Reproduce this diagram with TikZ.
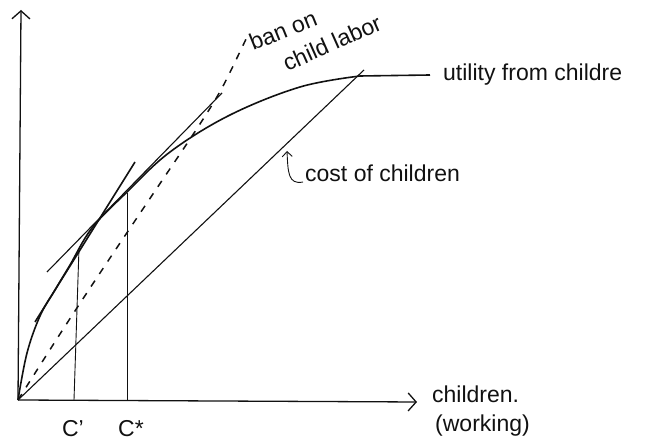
\documentclass[tikz,border=0pt]{standalone}
\usepackage{fontspec}
\setmainfont{Liberation Sans}
\usepackage{xcolor}
\definecolor{tinta}{HTML}{111111}
\usetikzlibrary{arrows.meta}

\begin{document}
\begin{tikzpicture}[x=1pt, y=1pt,
    every node/.style={font=\fontsize{23}{26}\selectfont, text=tinta, inner sep=0pt},
    eje/.style={tinta, line width=1.3pt,
      -{Straight Barb[length=8pt,width=18pt,line width=1.3pt]}},
    curva/.style={tinta, line width=1.6pt},
    fina/.style={tinta, line width=0.9pt}]

  \def\OX{18}    % origen
  \def\OY{47}
  \def\XP{74}    % C'
  \def\XS{127}   % C*

  \useasboundingbox (0,0) rectangle (657,447);

  \coordinate (O)    at (\OX,\OY);
  \coordinate (ytop) at (21,437);
  \coordinate (xtip) at (417,45);

  % ── Ejes ──────────────────────────────────────────────────
  \draw[eje] (O) -- (ytop);
  \draw[eje] (O) -- (xtip);
  \node[anchor=base west] (ejeX)  at (432,44) {children.};
  \node[anchor=base west] (ejeX2) at (435,15) {(working)};

  % ── Utilidad ──────────────────────────────────────────────
  \draw[curva] plot[smooth, tension=0.6] coordinates {
      (O) (27,94) (40,131) (55,157) (70,182) (92,219) (127,255)
      (170,295) (230,332) (300,360) (360,371)} -- (430,372);
  \node[anchor=base west] (util) at (443,366) {utility from childre};

  % ── Tangentes ─────────────────────────────────────────────
  \draw[curva] (35,125) -- (135,285);
  \draw[tinta, line width=1.1pt] (47,175) -- (222,354);

  % ── Prohibición (discontinua) ─────────────────────────────
  \draw[tinta, line width=1.5pt, dash pattern=on 7pt off 8pt]
    plot[smooth, tension=0.5] coordinates {
      (O) (60,113) (100,174) (155,256) (198,320) (222,359) (247,410)};
  \node[rotate=22] (ban)   at (283,417) {ban on};
  \node[rotate=24] (labor) at (332,404) {child labor};

  % ── Costo ─────────────────────────────────────────────────
  \coordinate (ctop) at (364,377);
  \draw[tinta, line width=1.1pt] (O) -- (ctop);
  \node[anchor=base west] (costo) at (305,265) {cost of children};
  \coordinate (cpunta) at (287,296);
  \draw[fina, -{Straight Barb[length=5pt,width=10pt]}]
    ([xshift=-2pt]costo.base west) .. controls (288,262) and (288,275) .. (cpunta);

  % ── C' y C* ───────────────────────────────────────────────
  \coordinate (cpA) at (\XP,\OY);
  \coordinate (cpB) at (79,199);
  \coordinate (csA) at (\XS,\OY);
  \coordinate (csB) at (\XS,254);
  \draw[fina] (cpA) -- (cpB);
  \draw[fina] (csA) -- (csB);
  \node[anchor=base] (cp) at (73,10) {C'};
  \node[anchor=base] (cs) at (131,10) {C*};

\end{tikzpicture}
\end{document}
